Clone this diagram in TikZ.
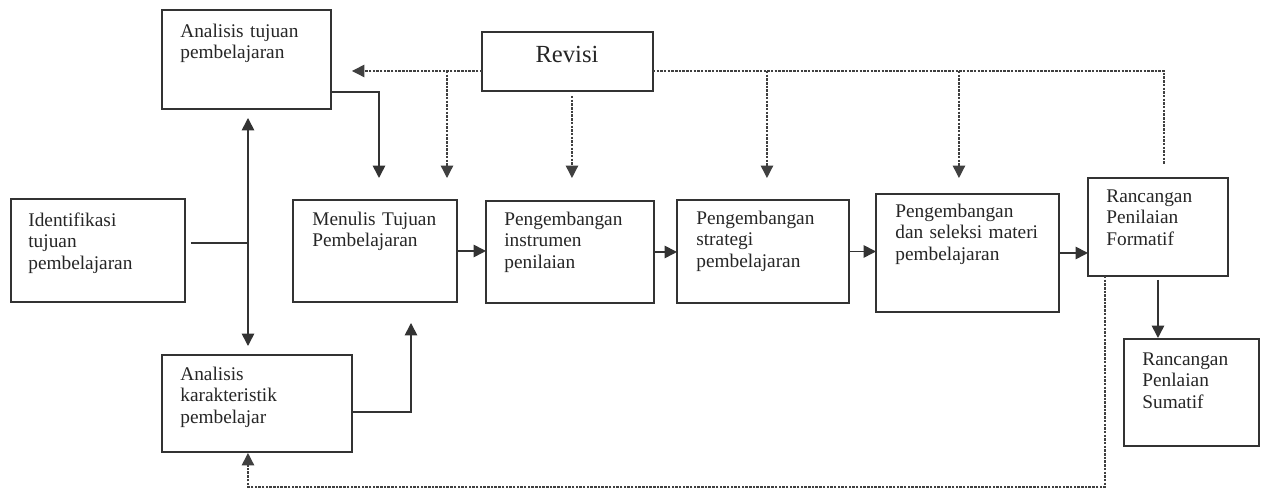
\documentclass[tikz,border=0pt]{standalone}
\usepackage{fontspec}
\setmainfont{Liberation Serif}
\usetikzlibrary{arrows.meta,calc}
\begin{document}
\begin{tikzpicture}[x=0.02cm,y=-0.02cm,
  box/.style={draw=black!80,line width=0.9pt,rectangle,inner sep=0pt,outer sep=0pt,anchor=north west},
  lbl/.style={anchor=base west,inner sep=0pt,align=left,text width=#1,text=black!85,font=\fontsize{11}{12.4}\selectfont},
  line/.style={draw=black!80,line width=0.9pt},
  arr/.style={line,-{Triangle[length=7pt,width=7pt]}},
  dline/.style={draw=black!75,line width=0.75pt,dash pattern=on 1.4pt off 0.7pt},
  darr/.style={dline,-{Triangle[length=7pt,width=7pt]}}]
\useasboundingbox[fill=white] (0,0) rectangle (1262,490);
% boxes
\node[box,minimum width=3.38cm,minimum height=1.98cm] (atp) at (162,10) {};
\node[box,minimum width=3.48cm,minimum height=2.06cm] (idt) at (11,199) {};
\node[box,minimum width=3.28cm,minimum height=2.04cm] (mtp) at (293,200) {};
\node[box,minimum width=3.80cm,minimum height=1.94cm] (akp) at (162,355) {};
\node[box,minimum width=3.42cm,minimum height=1.18cm] (rev) at (482,32) {};
\node[box,minimum width=3.36cm,minimum height=2.04cm] (pip) at (486,201) {};
\node[box,minimum width=3.44cm,minimum height=2.06cm] (psp) at (677,200) {};
\node[box,minimum width=3.66cm,minimum height=2.36cm] (psm) at (876,194) {};
\node[box,minimum width=2.80cm,minimum height=1.96cm] (rpf) at (1088,178) {};
\node[box,minimum width=2.70cm,minimum height=2.14cm] (rps) at (1124,339) {};
% labels
\node[lbl=2.9cm] (tatp) at (180,37) {Analisis tujuan\\pembelajaran};
\node[lbl=2.9cm] (tidt) at (28,226) {Identifikasi\\tujuan\\pembelajaran};
\node[lbl=2.9cm] (tmtp) at (312,225) {Menulis Tujuan\\Pembelajaran};
\node[lbl=2.9cm] (takp) at (180,380) {Analisis\\karakteristik\\pembelajar};
\node[lbl=2.9cm] (tpip) at (504,225) {Pengembangan\\instrumen\\penilaian};
\node[lbl=2.9cm] (tpsp) at (696,224) {Pengembangan\\strategi\\pembelajaran};
\node[lbl=3.2cm] (tpsm) at (895,217) {Pengembangan\\dan seleksi materi\\pembelajaran};
\node[lbl=2.3cm] (trpf) at (1106,202) {Rancangan\\Penilaian\\Formatif};
\node[lbl=2.3cm] (trps) at (1142,365) {Rancangan\\Penlaian\\Sumatif};
\node[anchor=base,inner sep=0pt,text=black!85,font=\fontsize{14}{16}\selectfont] (trev) at (567,62) {Revisi};
% solid connectors
\coordinate (j1) at (248,243);
\draw[line] ($(idt.east |- j1)+(6,0)$) -- (j1);
\draw[arr] (j1) -- ($(atp.south -| j1)+(0,9)$);
\draw[arr] (j1) -- ($(akp.north -| j1)+(0,-9)$);
\draw[arr] ($(atp.south east)+(0,-17)$) -| ($(mtp.north west)+(86,-22)$);
\draw[arr] ($(akp.east)+(0,8.5)$) -| ($(mtp.south west)+(118,21)$);
\draw[arr] (mtp.east) -- (mtp.east -| pip.west);
\draw[arr] (pip.east) -- (pip.east -| psp.west);
\draw[arr] (psp.east) -- (psp.east -| psm.west);
\draw[arr] (psm.east) -- (psm.east -| rpf.west);
\draw[arr] ($(rpf.south)+(0,4)$) -- ($(rpf.south |- rps.north)+(0,-1)$);
% dotted revision connectors
\coordinate (rl) at ($(rev.south west)+(0,-20)$);
\coordinate (rr) at ($(rev.south east)+(0,-20)$);
\draw[darr] (rl) -- ($(atp.east |- rl)+(21,0)$);
\coordinate (t1) at ($(mtp.north west)+(154,-22)$);
\draw[darr] (t1 |- rl) -- (t1);
\coordinate (t2) at ($(pip.north)+(2,-23)$);
\draw[darr] ($(rev.south -| t2)+(0,5)$) -- (t2);
\draw[dline] (rr) -| ($(rpf.north west)+(76,-14)$);
\coordinate (t3) at ($(psp.north)+(4,-22)$);
\draw[darr] (t3 |- rr) -- (t3);
\coordinate (t4) at ($(psm.north)+(-8.5,-16)$);
\draw[darr] (t4 |- rr) -- (t4);
\draw[darr] ($(rpf.south west)+(17,0)$) -- ++(0,211) -| ($(akp.south)+(-9,1)$);
\end{tikzpicture}
\end{document}
